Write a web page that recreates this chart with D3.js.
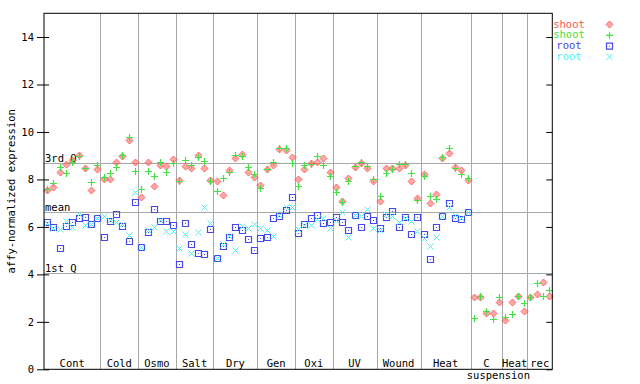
<!DOCTYPE html>
<html>
<head>
<meta charset="utf-8">
<script src="https://cdn.jsdelivr.net/npm/d3@7"></script>
<style>
body { margin: 0; background: #fff; }
text { font-family: "DejaVu Sans Mono", monospace; font-size: 10.5px; }
</style>
</head>
<body>
<svg width="640" height="384"></svg>
<script>
// groups of samples along the x axis
var groups = ["Cont", "Cold", "Osmo", "Salt", "Dry", "Gen", "Oxi", "UV", "Wound", "Heat", "C", "Heat", "rec"];
var groupSizes = [9, 6, 6, 6, 7, 6, 6, 7, 7, 8, 5, 4, 4];

// shoot, two replicates (81 samples)
var shootA = [7.55, 7.67, 8.30, 8.65, 8.82, 9.03, 8.47, 7.56, 8.43,
  8.01, 8.03, 8.75, 9.00, 9.66, 8.73,
  7.27, 8.75, 7.72, 8.61, 8.57, 8.87,
  7.98, 8.57, 8.47, 9.03, 8.47, 7.98,
  7.95, 7.35, 8.40, 8.89, 9.06, 8.33, 8.09,
  7.77, 8.43, 8.61, 9.28, 9.22, 8.93,
  8.01, 8.43, 8.71, 8.73, 8.89, 8.30,
  7.67, 7.09, 8.05, 8.54, 8.71, 8.47, 7.94,
  7.10, 8.47, 8.50, 8.47, 8.59, 7.94, 7.20,
  8.23, 7.00, 7.39, 8.89, 9.10, 8.54, 8.40, 7.98,
  3.06, 3.06, 2.36, 2.37, 2.82,
  2.09, 2.82, 3.09, 2.46,
  3.06, 3.17, 3.67, 3.09];
var shootB = [7.59, 7.86, 8.51, 8.27, 8.75, 8.99, 8.47, 7.88, 8.61,
  8.09, 8.26, 8.51, 9.03, 9.80, 8.37,
  7.59, 8.37, 8.15, 8.75, 8.33, 8.71,
  7.93, 8.82, 8.61, 8.96, 8.78, 7.95,
  7.51, 8.05, 8.30, 9.03, 8.99, 8.54, 8.23,
  7.63, 8.43, 8.73, 9.31, 9.31, 8.71,
  7.72, 8.61, 8.66, 8.99, 8.59, 8.15,
  7.46, 7.04, 7.95, 8.57, 8.73, 8.57, 8.01,
  7.30, 8.29, 8.43, 8.66, 8.66, 8.29, 7.13,
  8.15, 7.30, 7.16, 8.93, 9.31, 8.47, 8.23, 8.05,
  2.15, 3.09, 2.46, 2.11, 3.03,
  2.19, 2.33, 3.09, 2.78,
  3.03, 3.62, 3.09, 3.34];

// root, two replicates (first 68 samples only)
var rootA = [6.20, 5.98, 5.13, 6.05, 6.19, 6.36, 6.40, 6.14, 6.38,
  5.56, 6.25, 6.53, 6.05, 5.41, 7.05,
  5.14, 5.77, 6.74, 6.26, 6.23, 6.08,
  4.42, 6.15, 5.27, 4.89, 4.85, 5.91,
  4.68, 5.20, 5.59, 5.98, 5.87, 5.48, 5.03,
  5.52, 5.56, 6.36, 6.47, 6.71, 7.25,
  5.73, 6.11, 6.36, 6.50, 6.15, 6.22,
  6.43, 6.19, 5.87, 6.50, 5.98, 6.47, 6.29,
  5.94, 6.40, 6.67, 5.98, 6.40, 5.69, 6.43,
  5.69, 4.64, 6.01, 6.47, 7.00, 6.36, 6.32, 6.64];
var rootB = [6.15, 5.95, 5.90, 6.25, 6.01, 6.53, 6.07, 6.12, 6.39,
  6.47, 6.29, 6.19, 6.11, 5.66, 7.47,
  5.14, 5.87, 6.01, 6.29, 5.83, 5.83,
  5.13, 5.69, 4.89, 5.77, 6.83, 6.15,
  4.68, 5.28, 5.62, 5.03, 6.04, 5.94, 6.11,
  5.94, 5.87, 5.62, 6.50, 6.83, 6.83,
  5.91, 6.08, 6.07, 6.32, 6.39, 5.94,
  6.29, 6.61, 5.56, 6.50, 6.47, 6.74, 5.94,
  5.87, 6.54, 6.47, 6.22, 6.39, 6.25, 5.83,
  5.52, 5.20, 5.59, 6.47, 6.82, 6.50, 6.39, 6.64];

// reference lines
var refLines = [{ name: "3rd Q", value: 8.69 }, { name: "mean", value: 6.61 }, { name: "1st Q", value: 4.06 }];
var yTicks = [0, 2, 4, 6, 8, 10, 12, 14];

var series = [
  { name: "shoot", values: shootA, color: "#ff5050", shape: "diamond" },
  { name: "shoot", values: shootB, color: "#44e044", shape: "plus" },
  { name: "root", values: rootA, color: "#4848e8", shape: "square" },
  { name: "root", values: rootB, color: "#50f0f0", shape: "cross" }
];

var svg = d3.select("svg");
var plotLeft = 44, plotRight = 552.3, plotTop = 13.3, plotBottom = 369.3;
var nSamples = d3.sum(groupSizes);

var x = d3.scaleLinear().domain([0, nSamples]).range([plotLeft, plotRight]);
var y = d3.scaleLinear().domain([0, 15]).range([plotBottom, plotTop]);

// checker fill for the diamonds
var pat = svg.append("defs").append("pattern")
  .attr("id", "checker").attr("patternUnits", "userSpaceOnUse")
  .attr("width", 2).attr("height", 2);
pat.append("rect").attr("width", 1).attr("height", 1).attr("fill", "#ff5050");
pat.append("rect").attr("x", 1).attr("y", 1).attr("width", 1).attr("height", 1).attr("fill", "#ff5050");

// group separators
var bounds = Array.from(d3.cumsum(groupSizes));
var starts = [0].concat(bounds.slice(0, -1));
svg.append("g").selectAll("line")
  .data(bounds.slice(0, -1))
  .enter().append("line")
  .attr("x1", d => Math.round(x(d)) + 0.5).attr("x2", d => Math.round(x(d)) + 0.5)
  .attr("y1", plotTop).attr("y2", plotBottom)
  .attr("stroke", "#a8a8a8");

// quartile / mean lines
svg.append("g").selectAll("line")
  .data(refLines)
  .enter().append("line")
  .attr("x1", plotLeft).attr("x2", plotRight)
  .attr("y1", d => Math.round(y(d.value)) + 0.5).attr("y2", d => Math.round(y(d.value)) + 0.5)
  .attr("stroke", "#a8a8a8");

svg.append("g").selectAll("text")
  .data(refLines)
  .enter().append("text")
  .attr("x", plotLeft + 1)
  .attr("y", d => y(d.value) - 1)
  .text(d => d.name);

// group labels
svg.append("g").selectAll("text")
  .data(groups)
  .enter().append("text")
  .attr("x", (d, i) => x(starts[i] + groupSizes[i] / 2))
  .attr("y", 367)
  .attr("text-anchor", "middle")
  .text(d => d);
svg.append("text")
  .attr("x", x(starts[10] + groupSizes[10] / 2) + 12)
  .attr("y", 379)
  .attr("text-anchor", "middle")
  .text("suspension");

// markers
function markerPath(shape) {
  if (shape == "plus") return "M-3.5,0H3.5M0,-3.5V3.5";
  if (shape == "cross") return "M-3,-3L3,3M-3,3L3,-3";
  if (shape == "square") return "M-3,-3H3V3H-3Z";
  return "M0,-3.5L3.5,0L0,3.5L-3.5,0Z";
}

function styleMarker(sel, s) {
  var isDiamond = s.shape == "diamond";
  sel.attr("d", markerPath(s.shape))
    .attr("fill", isDiamond ? "url(#checker)" : "none")
    .attr("stroke", s.color)
    .attr("stroke-width", isDiamond ? 0.8 : (s.shape == "cross" ? 1 : 1.2));
}

series.forEach(function (s) {
  var g = svg.append("g");
  var pts = g.selectAll("g")
    .data(s.values)
    .enter().append("g")
    .attr("transform", (d, i) => "translate(" + (Math.round(x(i + 0.5)) + 0.5) + "," + (Math.round(y(d)) + 0.5) + ")");
  styleMarker(pts.append("path"), s);
  if (s.shape == "square") {
    pts.append("rect").attr("x", -0.5).attr("y", -0.5).attr("width", 1).attr("height", 1).attr("fill", s.color);
  }
});

// axes
var axisG = svg.append("g").attr("transform", "translate(" + plotLeft + ",0)");
axisG.call(d3.axisLeft(y).tickValues(yTicks).tickSize(7).tickPadding(3).tickFormat(d3.format("d")));
axisG.select(".domain").remove();
axisG.selectAll("text").style("font-family", "DejaVu Sans Mono, monospace").style("font-size", "10.5px");

var inner = svg.append("g").attr("transform", "translate(" + plotLeft + ",0)");
inner.call(d3.axisRight(y).tickValues(yTicks).tickSize(5).tickFormat(""));
inner.select(".domain").remove();

var rightAxis = svg.append("g").attr("transform", "translate(" + plotRight + ",0)");
rightAxis.call(d3.axisLeft(y).tickValues(yTicks).tickSize(6).tickFormat(""));
rightAxis.select(".domain").remove();

svg.append("rect")
  .attr("x", plotLeft).attr("y", plotTop)
  .attr("width", plotRight - plotLeft).attr("height", plotBottom - plotTop)
  .attr("fill", "none").attr("stroke", "#000");

// legend
var legend = svg.append("g").selectAll("g")
  .data(series)
  .enter().append("g")
  .attr("transform", (d, i) => "translate(0," + (24 + i * 10.8) + ")");
legend.append("text")
  .attr("x", 569).attr("dy", "0.35em")
  .attr("text-anchor", "middle")
  .attr("fill", d => d.color)
  .text(d => d.name);
legend.each(function (s) {
  var item = d3.select(this);
  styleMarker(item.append("path").attr("transform", "translate(609.5,0.5)"), s);
  if (s.shape == "square") {
    item.append("rect").attr("x", 609).attr("y", 0).attr("width", 1).attr("height", 1).attr("fill", s.color);
  }
});

// y axis title
svg.append("text")
  .attr("transform", "translate(15," + ((plotTop + plotBottom) / 2) + ") rotate(-90)")
  .attr("text-anchor", "middle")
  .text("affy-normalized expression");
</script>
</body>
</html>
